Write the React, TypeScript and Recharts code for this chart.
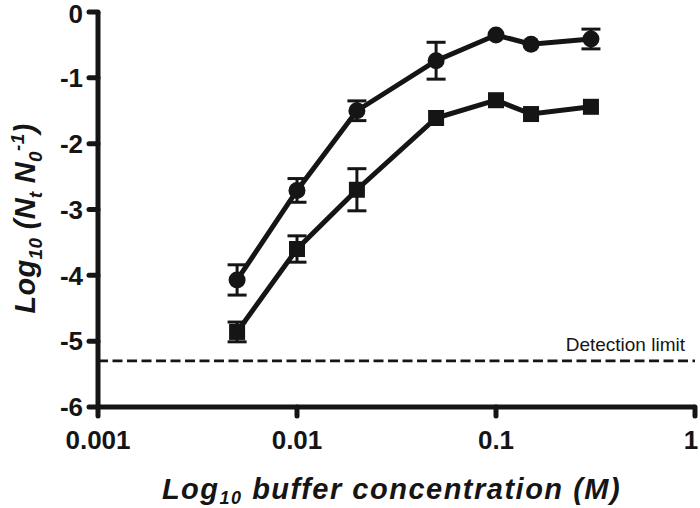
import React from 'react';
import { ComposedChart, Line, XAxis, YAxis, ErrorBar, ReferenceLine, Label } from 'recharts';

const concentrations = [0.005, 0.01, 0.02, 0.05, 0.1, 0.15, 0.3];
const circleValues = [-4.07, -2.71, -1.5, -0.74, -0.35, -0.49, -0.41];
const circleErrors = [0.23, 0.18, 0.15, 0.28, 0, 0, 0.15];
const squareValues = [-4.86, -3.6, -2.7, -1.61, -1.34, -1.55, -1.44];
const squareErrors = [0.15, 0.2, 0.32, 0, 0, 0, 0];
const xTicks = [0.001, 0.01, 0.1, 1];
const yTicks = [-6, -5, -4, -3, -2, -1, 0];
const detectionLimit = -5.3;

const data = concentrations.map((x, i) => ({
  x,
  circle: circleValues[i],
  circleErr: circleErrors[i],
  square: squareValues[i],
  squareErr: squareErrors[i],
}));

const INK = '#151515';
const FONT = "Arial, 'Liberation Sans', sans-serif";

const CircleDot = (props: any) => {
  const { cx, cy, index } = props;
  if (cx == null || cy == null) return <g key={`c${index}`} />;
  return <circle key={`c${index}`} cx={cx} cy={cy} r={8.5} fill={INK} />;
};

const SquareDot = (props: any) => {
  const { cx, cy, index } = props;
  if (cx == null || cy == null) return <g key={`s${index}`} />;
  return <rect key={`s${index}`} x={cx - 8} y={cy - 8} width={16} height={16} fill={INK} />;
};

const XTick = (props: any) => {
  const { x, y, payload } = props;
  const v = payload.value;
  const shift = v === 1 ? -4 : 0;
  return (
    <text x={x + shift} y={y} dy="0.71em" textAnchor="middle" fill={INK} fontSize={26} fontWeight="bold" fontFamily={FONT}>
      {String(v)}
    </text>
  );
};

const YTick = (props: any) => {
  const { x, y, payload } = props;
  const v = payload.value;
  const yy = Math.max(y, 14);
  return (
    <text x={x} y={yy} dy="0.355em" textAnchor="end" fill={INK} fontSize={26} fontWeight="bold" fontFamily={FONT}>
      {String(v)}
    </text>
  );
};

const XLabel = (props: any) => {
  const vb = props.viewBox || { x: 98, y: 407, width: 597, height: 101 };
  const cx = vb.x + vb.width / 2 - 5;
  const y = vb.y + 92;
  return (
    <text x={cx} y={y} textAnchor="middle" fontFamily={FONT} fontWeight="bold" fontStyle="italic" fontSize={29} fill={INK} letterSpacing={1.5}>
      <tspan>Log</tspan>
      <tspan fontSize={18} dy={5}>10</tspan>
      <tspan dy={-5}> buffer concentration (M)</tspan>
    </text>
  );
};

const YLabel = (props: any) => {
  const vb = props.viewBox || { x: 0, y: 12, width: 98, height: 395 };
  const x = vb.x + 35;
  const y = vb.y + vb.height / 2 + 9;
  return (
    <text x={x} y={y} transform={`rotate(-90 ${x} ${y})`} textAnchor="middle" fontFamily={FONT} fontWeight="bold" fontStyle="italic" fontSize={29} fill={INK} letterSpacing={0.3}>
      <tspan>Log</tspan>
      <tspan fontSize={19} dy={7}>10</tspan>
      <tspan dy={-7}> (N</tspan>
      <tspan fontSize={19} dy={7}>t</tspan>
      <tspan dy={-7}> N</tspan>
      <tspan fontSize={19} dy={7}>0</tspan>
      <tspan fontSize={19} dy={-18}>-1</tspan>
      <tspan dy={11}>)</tspan>
    </text>
  );
};

const DetectionLabel = (props: any) => {
  const vb = props.viewBox || { x: 98, y: 361, width: 597, height: 0 };
  return (
    <text x={vb.x + vb.width - 10} y={vb.y - 10} textAnchor="end" fontFamily={FONT} fontSize={19} fill={INK}>
      Detection limit
    </text>
  );
};

export default function App() {
  return (
    <div style={{ position: 'absolute', left: 0, top: 0, width: 700, height: 508, background: '#fff' }}>
      <ComposedChart width={700} height={508} data={data} margin={{ top: 12, right: 5, bottom: 0, left: 0 }}>
        <XAxis
          dataKey="x"
          type="number"
          scale="log"
          domain={[0.001, 1]}
          ticks={xTicks}
          allowDataOverflow
          height={101}
          tickSize={9}
          tickMargin={15}
          axisLine={{ stroke: INK, strokeWidth: 5 }}
          tickLine={{ stroke: INK, strokeWidth: 5, strokeLinecap: 'round' }}
          tick={<XTick />}
          interval={0}
        >
          <Label content={<XLabel />} />
        </XAxis>
        <YAxis
          type="number"
          domain={[-6, 0]}
          ticks={yTicks}
          allowDataOverflow
          width={98}
          tickSize={9}
          tickMargin={6}
          axisLine={{ stroke: INK, strokeWidth: 5 }}
          tickLine={{ stroke: INK, strokeWidth: 5, strokeLinecap: 'round' }}
          tick={<YTick />}
          interval={0}
        >
          <Label content={<YLabel />} />
        </YAxis>
        <ReferenceLine y={detectionLimit} stroke={INK} strokeWidth={2.6} strokeDasharray="10 4.5" label={<DetectionLabel />} />
        <Line
          type="linear"
          dataKey="circle"
          stroke={INK}
          strokeWidth={5}
          dot={CircleDot}
          activeDot={false}
          isAnimationActive={false}
        >
          <ErrorBar dataKey="circleErr" width={9.5} strokeWidth={3} stroke={INK} direction="y" />
        </Line>
        <Line
          type="linear"
          dataKey="square"
          stroke={INK}
          strokeWidth={5}
          dot={SquareDot}
          activeDot={false}
          isAnimationActive={false}
        >
          <ErrorBar dataKey="squareErr" width={9.5} strokeWidth={3} stroke={INK} direction="y" />
        </Line>
      </ComposedChart>
    </div>
  );
}
